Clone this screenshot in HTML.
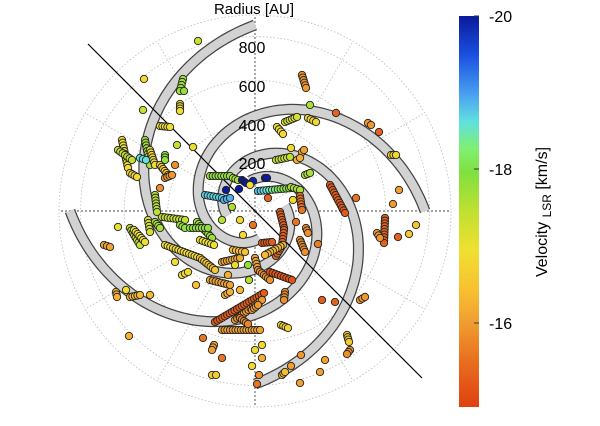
<!DOCTYPE html>
<html><head><meta charset="utf-8"><style>
html,body{margin:0;padding:0;background:#fff;width:600px;height:426px;overflow:hidden}
svg{display:block;font-family:"Liberation Sans",sans-serif}
</style></head><body>
<svg id="s" width="600" height="426" viewBox="0 0 600 426" xmlns="http://www.w3.org/2000/svg">
<defs>
<linearGradient id="cb" x1="0" y1="0" x2="0" y2="1">
<stop offset="0" stop-color="#0a1a9a"/>
<stop offset="0.1" stop-color="#1a50e0"/>
<stop offset="0.2" stop-color="#4aa0f0"/>
<stop offset="0.27" stop-color="#60e0e0"/>
<stop offset="0.34" stop-color="#80f070"/>
<stop offset="0.4" stop-color="#80e040"/>
<stop offset="0.5" stop-color="#c0e030"/>
<stop offset="0.6" stop-color="#f0e030"/>
<stop offset="0.7" stop-color="#f8c030"/>
<stop offset="0.78" stop-color="#f0a030"/>
<stop offset="0.88" stop-color="#e87020"/>
<stop offset="1" stop-color="#e04010"/>
</linearGradient>
</defs>
<g id="grid"></g>
<g id="arms"></g>
<line x1="88" y1="44" x2="422" y2="378" stroke="#000" stroke-width="1.2"/>
<g id="pts"></g>
<g font-size="16" fill="#000" text-anchor="middle">
<text x="252" y="53">800</text>
<text x="252" y="92">600</text>
<text x="252" y="131">400</text>
<text x="252" y="169">200</text>
</g>
<text x="254" y="14" font-size="15" text-anchor="middle">Radius [AU]</text>
<rect x="459" y="16" width="20" height="391" fill="url(#cb)"/>
<g stroke="#333" stroke-width="1">
<line x1="474" y1="16" x2="479" y2="16"/><line x1="474" y1="169" x2="479" y2="169"/><line x1="474" y1="323" x2="479" y2="323"/>
</g>
<g font-size="16" fill="#000">
<text x="489" y="22">-20</text><text x="489" y="175">-18</text><text x="489" y="329">-16</text>
</g>
<text transform="translate(547,212) rotate(-90)" font-size="16" text-anchor="middle">Velocity <tspan font-size="12" dy="4">LSR</tspan><tspan dy="-4">   [km/s]</tspan></text>
</svg>
<script>
var NS="http://www.w3.org/2000/svg",cx=255,cy=211,R=196;
function el(t,a,p){var e=document.createElementNS(NS,t);for(var k in a)e.setAttribute(k,a[k]);p.appendChild(e);return e;}
var g=document.getElementById('grid');
for(var i=1;i<=4;i++)el('circle',{cx:cx,cy:cy,r:43.6*i,fill:'none',stroke:'#bbb','stroke-width':0.8,'stroke-dasharray':'1.5 2'},g);
el('circle',{cx:cx,cy:cy,r:R,fill:'none',stroke:'#bbb','stroke-width':0.8,'stroke-dasharray':'1.5 2'},g);
for(var a=0;a<360;a+=30){var rad=a*Math.PI/180,dark=(a%90==0);
el('line',{x1:cx,y1:cy,x2:cx+R*Math.cos(rad),y2:cy-R*Math.sin(rad),stroke:dark?'#444':'#bbb','stroke-width':dark?0.9:0.8,'stroke-dasharray':dark?'2 2':'1.5 2'},g);}
var ag=document.getElementById('arms');
var arms=[[90,186],[0,170],[270,173],[180,185]],k=0.37;
arms.forEach(function(A){var d='';for(var t=0;t<=280;t+=2){var ph=(A[0]+t)*Math.PI/180,r=A[1]*Math.exp(-k*t*Math.PI/180);
d+=(t?'L':'M')+(cx+r*Math.cos(ph)).toFixed(1)+' '+(cy-r*Math.sin(ph)).toFixed(1);}
el('path',{d:d,fill:'none',stroke:'#444','stroke-width':11},ag);
el('path',{d:d,fill:'none',stroke:'#d2d2d2','stroke-width':8.5},ag);});
var stops=[[0,[10,26,154]],[.1,[26,80,224]],[.2,[74,160,240]],[.27,[96,224,224]],[.34,[128,240,112]],[.4,[128,224,64]],[.5,[192,224,48]],[.6,[240,224,48]],[.7,[248,192,48]],[.78,[240,160,48]],[.88,[232,112,32]],[1,[224,64,16]]];
function col(v){var t=(v+20)/5.15;t=Math.max(0,Math.min(1,t));for(var i=1;i<stops.length;i++)if(t<=stops[i][0]){var a=stops[i-1],b=stops[i],f=(t-a[0])/(b[0]-a[0]);
return 'rgb('+[0,1,2].map(function(j){return Math.round(a[1][j]+f*(b[1][j]-a[1][j]))}).join(',')+')';}return 'rgb(224,64,16)';}
var P=document.getElementById('pts');
function dot(x,y,v){el('circle',{cx:x,cy:y,r:3.7,fill:col(v),stroke:'#222','stroke-width':0.9},P);}
var S=[
[198,41,198,41,1,-17.3],[144,79,144,79,1,-16.8],[183,79,180,91,2,-17.7],[184,91,184,91,1,-17.8],[180,104,180,111,3,-16.9],[143,110,143,110,1,-17.3],
[160,126,170,127,3,-16.9],[177,145,177,145,1,-17.4],[193,147,193,147,1,-17.0],[165,155,165,160,2,-17.8],
[122,140,128,168,6,-16.9],[118,150,132,160,5,-17.4],[145,140,150,165,6,-17.7],[150,150,155,165,4,-16.8],[140,158,146,160,2,-18.6],
[160,165,168,175,3,-16.6],[165,178,172,175,2,-15.9],[130,173,137,177,2,-16.8],[160,188,160,188,1,-15.8],[175,165,177,165,1,-15.8],
[155,195,157,212,4,-17.5],[148,220,150,232,3,-17.2],[162,217,185,220,6,-17.4],[180,225,185,228,2,-17.8],[210,176,230,176,6,-17.8],[233,178,238,180,2,-17.6],
[205,195,222,198,6,-18.7],[224,200,230,198,2,-18.9],[242,180,246,183,2,-20],[253,181,253,181,1,-19.9],[265,178,267,178,2,-20],[226,190,226,190,1,-20],[239,189,239,189,1,-20],
[258,191,292,188,10,-18.8,-17.8],[250,185,252,184,1,-16.9],[268,198,268,198,1,-15.3],[222,220,222,220,1,-17.5],[253,225,253,225,1,-15.5],
[302,75,306,88,3,-15.9],[310,105,310,105,1,-17.6],[277,127,283,134,3,-16.8],[285,122,297,117,4,-17.2],[308,118,316,122,3,-16.8],[336,113,336,113,1,-15.3],
[368,123,371,125,2,-15.9],[379,132,379,132,1,-15.3],[291,148,291,148,1,-16.8],[302,152,304,150,2,-16],[276,160,290,157,5,-17.4],[297,160,300,158,2,-16.2],
[305,175,310,173,2,-17.6],[291,187,300,190,3,-17.6],[293,200,293,200,1,-16.8],[300,196,302,210,4,-15.5],
[330,185,345,213,8,-15.2],[356,198,356,198,1,-15.5],[391,155,396,155,2,-16.8],[399,190,399,190,1,-16],[393,204,393,204,1,-15.9],
[385,218,384,243,7,-15.3],[377,233,380,238,2,-15.9],[398,237,398,237,1,-15.3],[409,234,409,234,1,-16.5],[416,225,416,225,1,-16.5],
[280,212,284,228,4,-15.3],[284,230,282,245,4,-15.2],[276,256,282,246,2,-15.3],[262,243,272,242,3,-15.2],[283,245,265,255,6,-16.3],
[255,258,258,270,4,-16.0],[258,270,270,280,4,-15.8],[270,272,292,280,7,-15.1],[285,292,284,300,3,-15.8],[300,240,305,252,3,-15.8],[318,244,318,244,1,-15.6],
[306,228,308,233,2,-15.8],[296,222,296,222,1,-15.5],[322,300,322,300,1,-15.2],[335,302,335,302,1,-15.3],[360,300,365,297,2,-15.9],
[347,335,349,342,3,-16.6],[281,325,288,328,4,-16.7],[350,350,347,354,2,-15.8],[301,355,301,355,1,-15.9],[255,350,255,350,1,-16.8],[262,345,262,345,1,-16.8],
[320,372,320,372,1,-16],[325,360,325,360,1,-16],[291,366,291,366,1,-16],[259,375,259,375,1,-15.8],[257,384,257,384,1,-15.5],
[282,375,285,372,2,-16.4],[300,383,300,383,1,-16],
[215,322,264,293,12,-15.2],[235,320,262,300,7,-15.9],[222,330,260,330,8,-16.0],[240,318,248,324,2,-15.7],[252,310,258,305,2,-15.9],
[214,345,212,350,2,-16],[203,338,203,338,1,-15.5],[222,358,222,358,1,-15.5],[252,366,252,366,1,-16.8],[262,358,262,358,1,-16.2],
[104,245,110,247,2,-16],[116,292,117,297,2,-16.2],[126,290,126,290,1,-16.9],[130,297,140,295,3,-16.3],[150,295,150,295,1,-16.3],[129,336,129,336,1,-16.2],
[212,375,216,375,2,-16.6],[130,228,140,245,5,-17.4],[134,230,145,242,3,-16.9],[118,227,118,227,1,-17],[155,222,160,228,2,-17.6],
[197,222,212,238,7,-17.7],[190,228,208,228,5,-17.8],[200,240,214,245,4,-16.9],
[165,245,200,258,10,-16.8],[200,258,215,270,5,-16.5],[222,262,240,258,5,-16.1],[210,280,230,285,5,-16.0],[225,295,230,292,2,-16.2],[233,250,245,252,3,-16.4],
[175,262,175,262,1,-16.9],[182,275,188,272,2,-16.8],[196,285,196,285,1,-16.4],[248,265,248,265,1,-17.8],[249,280,249,280,1,-17.5],[240,290,240,290,1,-16.3],
[235,265,235,265,1,-16.8],[228,275,228,275,1,-16.2],[243,235,243,235,1,-16.8],[240,220,240,220,1,-16.8],[232,207,232,207,1,-17.6]
];
S.forEach(function(s){var n=s[4],v1=s[5],v2=s.length>6?s[6]:s[5];var L=Math.hypot(s[2]-s[0],s[3]-s[1]);if(n>1)n=Math.max(n,Math.round(L/2.8)+1);
for(var i=0;i<n;i++){var f=n>1?i/(n-1):0;dot(s[0]+f*(s[2]-s[0]),s[1]+f*(s[3]-s[1]),v1+f*(v2-v1));}});
</script>
</body></html>
